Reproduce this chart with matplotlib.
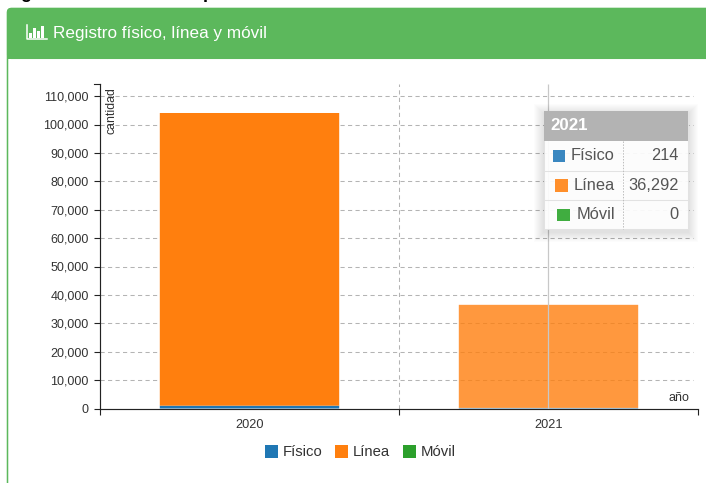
import matplotlib
matplotlib.use('agg')
import matplotlib.pyplot as plt
from matplotlib.patches import Rectangle, FancyBboxPatch

years = ['2020', '2021']
fisico = [1000, 214]
linea = [103050, 36292]
movil = [0, 0]
series_names = ['Físico', 'Línea', 'Móvil']
yticks = [0, 10000, 20000, 30000, 40000, 50000, 60000, 70000, 80000, 90000, 100000, 110000]

W, H = 706, 483
plt.rcParams['font.family'] = ['Liberation Sans', 'DejaVu Sans']
colors = ['#1f77b4', '#ff7f0e', '#2ca02c']
tip_colors = ['#3a87c0', '#ff8f2b', '#40ad40']
text_col = '#333333'
grid_col = '#b4b4b4'
axis_col = '#222222'
dash = (0, (4, 3.2))

fig = plt.figure(figsize=(W / 100, H / 100), dpi=100)

# background in pixel coordinates, y going down
bg = fig.add_axes([0, 0, 1, 1])
bg.set_xlim(0, W)
bg.set_ylim(H, 0)
bg.axis('off')
bg.add_patch(FancyBboxPatch((7.5, 8.5), 720, 520, boxstyle='round,pad=0,rounding_size=4',
                            fc='white', ec='#5cb85c', lw=1.1))
bg.add_patch(FancyBboxPatch((7.5, 8.5), 720, 50, boxstyle='round,pad=0,rounding_size=4',
                            fc='#5cb85c', ec='#5cb85c', lw=0.8))
bg.add_patch(Rectangle((7.5, 40), 720, 18.5, fc='#5cb85c', ec='none'))
bg.text(53, 33.5, 'Registro físico, línea y móvil', color='white', fontsize=12.3, va='center')

# small bar icon of the header
bg.plot([27, 27, 46.5], [25, 39, 39], color='white', lw=1.1)
for ix, top in zip([30.5, 34.5, 38.5, 42.5], [33, 28, 31, 26]):
    bg.add_patch(Rectangle((ix - 1.2, top), 2.4, 37.8 - top, fc='white', ec='none'))

# heading cut off by the top edge
bg.text(20, -7, 'g', color='black', fontsize=13, fontweight='bold', va='center')
bg.text(203, -7, 'p', color='black', fontsize=13, fontweight='bold', va='center')

# plot area 100..698 px wide, 83.5..408.5 px tall
ax = fig.add_axes([100 / W, 1 - 408.5 / H, 598 / W, 325 / H])
ax.patch.set_alpha(0)
ax.set_xlim(-0.5, 1.5)
ax.set_ylim(0, 325 / 28.4 * 10000)

ax.hlines(yticks[1:], -0.5, 1.483, color=grid_col, ls=dash, lw=0.75, zorder=1)
ax.vlines([0.5], 0, ax.get_ylim()[1], color=grid_col, ls=dash, lw=0.75, zorder=1)

bar_w = 0.6
for i in range(2):
    alpha = 0.8 if i == 1 else 1
    bottom = 0
    for vals, col in zip([fisico, linea, movil], colors):
        ax.bar(i, vals[i], bar_w, bottom=bottom, color=col, alpha=alpha, lw=0, zorder=2,
               snap=False)
        bottom += vals[i]

# hover line on 2021
ax.vlines([0.998], 0, ax.get_ylim()[1], color='#c8c8c8', lw=0.9, zorder=3)

ax.set_yticks(yticks)
ax.set_yticklabels([f'{v:,}' for v in yticks], fontsize=9, color=text_col)
ax.set_xticks([-0.5, 0.5, 1.5])
ax.set_xticklabels([])
ax.tick_params(axis='y', length=4.5, width=0.8, pad=3.5, color=axis_col)
ax.tick_params(axis='x', length=4.5, width=0.8, color=axis_col)
for i, y in enumerate(years):
    ax.text(i, -0.032, y, transform=ax.get_xaxis_transform(), fontsize=9.2, color=text_col,
            ha='center', va='top')
for s in ['top', 'right']:
    ax.spines[s].set_visible(False)
for s in ['left', 'bottom']:
    ax.spines[s].set_color(axis_col)
    ax.spines[s].set_linewidth(0.85)

bg.set_zorder(0)
ax.set_zorder(1)

over = fig.add_axes([0, 0, 1, 1], zorder=2)
over.set_xlim(0, W)
over.set_ylim(H, 0)
over.axis('off')
over.patch.set_alpha(0)

over.text(111.5, 111, 'cantidad', rotation=90, fontsize=8.9, color=text_col, ha='center', va='center')
over.text(689, 398, 'año', fontsize=9, color=text_col, ha='right', va='center')
over.plot([94, 100], [83.5, 83.5], color=axis_col, lw=0.8)

# legend
for lx, tx, name, col in zip([265, 335, 403], [283, 353, 421], series_names, colors):
    over.add_patch(Rectangle((lx, 445), 13, 13, fc=col, ec='none'))
    over.text(tx, 451.5, name, fontsize=10.7, color=text_col, va='center')

# hover tooltip for 2021, soft shadow first
for grow in range(1, 11):
    over.add_patch(Rectangle((544 - grow, 114 - grow), 143.5 + 2 * grow, 118 + 2 * grow,
                             fc='black', alpha=0.012, ec='none'))
over.add_patch(Rectangle((544, 111), 143.5, 118, fc='white', alpha=0.93, ec='#e2e2e2', lw=0.75))
over.add_patch(Rectangle((544, 111), 143.5, 30, fc='#b3b3b3', ec='none'))
over.text(550.5, 126, years[1], color='white', fontsize=12.2, fontweight='bold', va='center')
rows = [155.5, 185, 214.5]
box_xs = [552.5, 555, 557]
for name, val, col, cy, box_x in zip(series_names, [fisico[1], linea[1], movil[1]], tip_colors, rows, box_xs):
    over.text(615, cy, name, fontsize=11.8, color='#555555', ha='right', va='center')
    over.add_patch(Rectangle((box_x, cy - 6), 12.5, 12.5, fc=col, ec='none'))
    over.text(679, cy, f'{val:,}', fontsize=11.8, color='#555555', ha='right', va='center')
for ly in [170.5, 200]:
    over.plot([544, 687.5], [ly, ly], color='#e2e2e2', lw=0.75)
over.plot([622.5, 622.5], [141, 229], color='#bdbdbd', lw=0.7, ls=(0, (1.5, 1.5)))

fig.savefig('out.png', dpi=100)
